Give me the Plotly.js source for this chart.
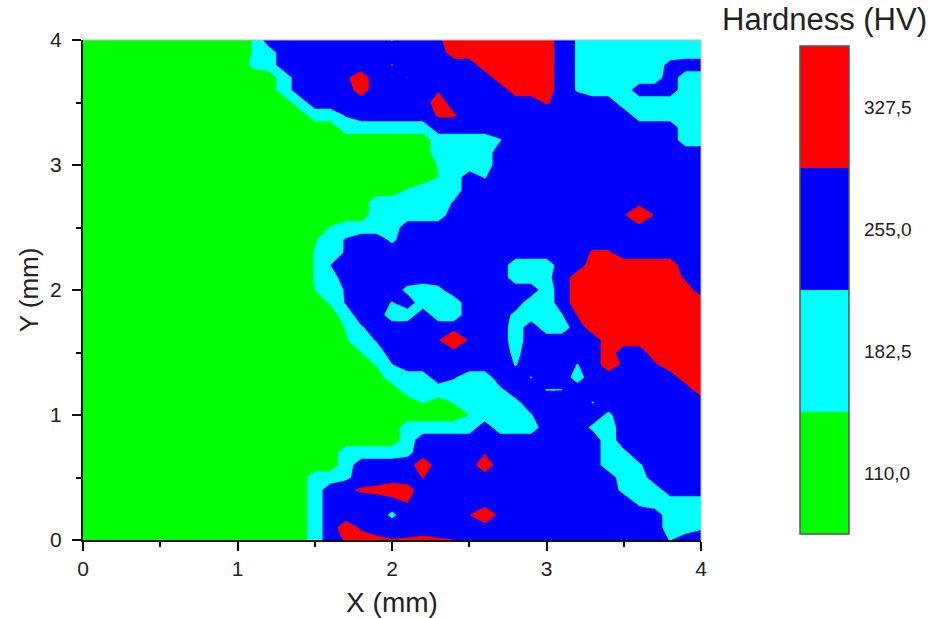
<!DOCTYPE html>
<html><head><meta charset="utf-8">
<script src="https://cdn.plot.ly/plotly-3.0.1.min.js"></script>
<style>html,body{margin:0;padding:0;background:#fff}#c{width:929px;height:618px}</style>
</head><body><div id="c"></div>
<script>
const G=110,C=182,B=255,R=327;
const xs=[0,.1,.2,.3,.4,.5,.6,.7,.8,.9,1,1.1,1.2,1.3,1.4,1.5,1.6,1.7,1.8,1.9,2,2.1,2.2,2.3,2.4,2.5,2.6,2.7,2.8,2.9,3,3.1,3.2,3.3,3.4,3.5,3.6,3.7,3.8,3.9,4];
const ys=xs.slice();
const tickVals=[110,182.5,255,327.5];
const tickText=['110,0','182,5','255,0','327,5'];
const z=[
/*0.0*/[G,G,G,G,G,G,G,G,G,G,G,G,G,G,G,C,B,300,R,310,295,300,310,300,292,B,B,B,B,B,B,B,B,B,B,B,B,B,215,B,B],
/*0.1*/[G,G,G,G,G,G,G,G,G,G,G,G,G,G,G,C,B,335,280,B,B,B,B,B,B,B,B,B,B,B,B,B,B,B,B,B,B,B,C,C,210],
/*0.2*/[G,G,G,G,G,G,G,G,G,G,G,G,G,G,G,C,B,B,B,B,205,B,B,B,B,290,360,270,B,B,B,B,B,B,B,B,B,B,C,C,C],
/*0.3*/[G,G,G,G,G,G,G,G,G,G,G,G,G,G,G,C,B,B,B,B,B,293,B,B,B,B,B,B,B,B,B,B,B,B,B,B,205,C,C,C,C],
/*0.4*/[G,G,G,G,G,G,G,G,G,G,G,G,G,G,G,C,B,280,300,310,340,320,B,B,B,B,B,B,B,B,B,B,B,B,B,200,C,C,B,B,B],
/*0.5*/[G,G,G,G,G,G,G,G,G,G,G,G,G,G,G,C,C,200,B,B,B,B,295,B,B,B,B,B,B,B,B,B,B,B,B,C,C,B,B,B,B],
/*0.6*/[G,G,G,G,G,G,G,G,G,G,G,G,G,G,G,G,G,C,B,B,B,B,340,B,B,B,340,B,B,B,B,B,B,B,C,C,210,B,B,B,B],
/*0.7*/[G,G,G,G,G,G,G,G,G,G,G,G,G,G,G,G,G,C,C,C,C,200,B,B,B,B,285,B,B,B,B,B,B,B,C,205,B,B,B,B,B],
/*0.8*/[G,G,G,G,G,G,G,G,G,G,G,G,G,G,G,G,G,G,G,G,G,C,B,B,B,B,B,B,B,B,B,B,B,B,C,B,B,B,B,B,B],
/*0.9*/[G,G,G,G,G,G,G,G,G,G,G,G,G,G,G,G,G,G,G,G,G,C,C,C,C,C,B,C,C,C,B,B,B,205,C,B,B,B,B,B,B],
/*1.0*/[G,G,G,G,G,G,G,G,G,G,G,G,G,G,G,G,G,G,G,G,G,G,G,G,G,146,C,C,C,215,B,B,B,B,205,B,B,B,B,B,B],
/*1.1*/[G,G,G,G,G,G,G,G,G,G,G,G,G,G,G,G,G,G,G,G,G,G,150,120,150,C,C,C,200,B,B,B,B,215,B,B,B,B,B,B,B],
/*1.2*/[G,G,G,G,G,G,G,G,G,G,G,G,G,G,G,G,G,G,G,G,G,C,C,C,C,C,C,205,B,B,216,217,B,B,B,B,B,B,B,B,R],
/*1.3*/[G,G,G,G,G,G,G,G,G,G,G,G,G,G,G,G,G,G,G,G,C,C,C,B,225,C,C,B,B,215,B,B,190,B,B,B,B,B,B,R,R],
/*1.4*/[G,G,G,G,G,G,G,G,G,G,G,G,G,G,G,G,G,G,G,150,215,B,B,B,B,B,B,B,215,B,B,B,215,B,R,280,B,280,R,R,R],
/*1.5*/[G,G,G,G,G,G,G,G,G,G,G,G,G,G,G,G,G,G,146,C,B,B,B,B,B,B,B,B,200,B,B,B,B,B,R,B,B,R,R,R,R],
/*1.6*/[G,G,G,G,G,G,G,G,G,G,G,G,G,G,G,G,G,140,C,225,B,B,B,287,400,280,B,B,C,B,B,B,B,B,R,R,R,R,R,R,R],
/*1.7*/[G,G,G,G,G,G,G,G,G,G,G,G,G,G,G,G,G,150,210,B,B,B,B,B,B,B,B,B,C,B,C,C,B,R,R,R,R,R,R,R,R],
/*1.8*/[G,G,G,G,G,G,G,G,G,G,G,G,G,G,G,G,G,C,B,B,C,C,B,C,C,B,B,B,200,C,C,215,295,R,R,R,R,R,R,R,R],
/*1.9*/[G,G,G,G,G,G,G,G,G,G,G,G,G,G,G,G,155,225,B,B,215,B,C,C,C,B,B,B,B,C,C,B,R,R,R,R,R,R,R,R,R],
/*2.0*/[G,G,G,G,G,G,G,G,G,G,G,G,G,G,G,146,C,225,B,B,B,200,C,200,B,B,B,B,B,B,C,B,R,R,R,R,R,R,R,R,B],
/*2.1*/[G,G,G,G,G,G,G,G,G,G,G,G,G,G,G,150,C,B,B,B,B,B,B,B,B,B,B,B,C,C,200,B,R,R,R,R,R,R,R,280,B],
/*2.2*/[G,G,G,G,G,G,G,G,G,G,G,G,G,G,G,150,218,B,B,B,B,B,B,B,B,B,B,B,C,C,C,B,B,R,R,R,R,R,R,B,B],
/*2.3*/[G,G,G,G,G,G,G,G,G,G,G,G,G,G,G,150,C,225,B,B,B,B,B,B,B,B,B,B,B,B,B,B,B,300,300,B,B,B,B,B,B],
/*2.4*/[G,G,G,G,G,G,G,G,G,G,G,G,G,G,G,140,C,225,B,B,205,B,B,B,B,B,B,B,B,B,B,B,B,B,B,B,B,B,B,B,B],
/*2.5*/[G,G,G,G,G,G,G,G,G,G,G,G,G,G,G,G,150,C,C,C,C,B,B,B,B,B,B,B,B,B,B,B,B,B,B,B,B,B,B,B,B],
/*2.6*/[G,G,G,G,G,G,G,G,G,G,G,G,G,G,G,G,G,G,G,C,C,C,C,C,B,B,B,B,B,B,B,B,B,B,B,280,400,285,B,B,B],
/*2.7*/[G,G,G,G,G,G,G,G,G,G,G,G,G,G,G,G,G,G,G,C,C,C,C,C,225,B,B,B,B,B,B,B,B,B,B,B,B,B,B,B,B],
/*2.8*/[G,G,G,G,G,G,G,G,G,G,G,G,G,G,G,G,G,G,G,G,G,150,C,C,C,B,B,B,B,B,B,B,B,B,B,B,B,B,B,B,B],
/*2.9*/[G,G,G,G,G,G,G,G,G,G,G,G,G,G,G,G,G,G,G,G,G,G,G,146,C,B,215,B,B,B,B,B,B,B,B,B,B,B,B,B,B],
/*3.0*/[G,G,G,G,G,G,G,G,G,G,G,G,G,G,G,G,G,G,G,G,G,G,G,150,205,C,C,B,B,B,B,B,B,B,B,B,B,B,B,B,B],
/*3.1*/[G,G,G,G,G,G,G,G,G,G,G,G,G,G,G,G,G,G,G,G,G,G,G,C,C,C,C,B,B,B,B,B,B,B,B,B,B,B,B,B,B],
/*3.2*/[G,G,G,G,G,G,G,G,G,G,G,G,G,G,G,G,G,G,G,G,G,G,G,C,C,C,C,215,B,B,B,B,B,B,B,B,B,B,B,C,C],
/*3.3*/[G,G,G,G,G,G,G,G,G,G,G,G,G,G,G,G,G,C,C,C,C,C,C,B,B,B,B,B,B,B,B,B,B,B,B,B,B,B,B,C,C],
/*3.4*/[G,G,G,G,G,G,G,G,G,G,G,G,G,G,G,C,C,225,B,B,B,B,B,300,300,B,B,B,B,B,B,B,B,B,B,B,C,C,C,C,C],
/*3.5*/[G,G,G,G,G,G,G,G,G,G,G,G,G,G,C,B,B,B,B,B,B,B,B,330,B,B,B,B,B,B,300,B,B,B,B,C,C,C,C,C,C],
/*3.6*/[G,G,G,G,G,G,G,G,G,G,G,G,G,C,B,B,B,B,R,B,B,B,B,285,B,B,B,B,R,R,R,B,212,C,C,C,B,B,B,C,C],
/*3.7*/[G,G,G,G,G,G,G,G,G,G,G,G,G,C,B,B,B,280,R,B,B,293,B,B,B,B,B,R,R,R,R,B,212,C,C,C,C,C,B,C,C],
/*3.8*/[G,G,G,G,G,G,G,G,G,G,G,160,C,B,B,B,B,B,B,B,295,B,B,B,B,B,R,R,R,R,R,B,212,C,C,C,C,C,240,B,B],
/*3.9*/[G,G,G,G,G,G,G,G,G,G,G,150,C,B,B,B,B,B,B,B,B,B,B,B,R,R,R,R,R,R,R,B,212,C,C,C,C,C,C,C,C],
/*4.0*/[G,G,G,G,G,G,G,G,G,G,G,150,B,B,B,B,B,B,B,B,215,B,B,280,R,R,R,R,R,R,R,B,212,C,C,C,C,C,C,C,C]
];
const font='"Liberation Sans",Arial,sans-serif', ink='#222';
const trace={type:'contour',x:xs,y:ys,z:z,zauto:false,zmin:73.75,zmax:363.75,
 autocontour:false,line:{width:0,smoothing:0},hoverinfo:'skip',
 contours:{coloring:'fill',start:146.25,end:291.25,size:72.5,showlines:false},
 colorscale:[[0,'#00ff00'],[.25,'#00ff00'],[.25,'#00ffff'],[.5,'#00ffff'],[.5,'#0000ff'],[.75,'#0000ff'],[.75,'#ff0000'],[1,'#ff0000']],
 colorbar:{thicknessmode:'pixels',thickness:49,lenmode:'pixels',len:488,x:1.1602,xanchor:'left',y:.988,yanchor:'top',xpad:0,ypad:0,
  outlinecolor:'#555',outlinewidth:1.5,borderwidth:0,ticks:'outside',ticklen:11,tickcolor:'rgba(0,0,0,0)',tickmode:'array',tickvals:tickVals,ticktext:tickText,
  tickfont:{family:font,size:19,color:ink},title:{text:''}}};
const axis={range:[0,4],tickmode:'linear',tick0:0,dtick:1,ticks:'outside',ticklen:9,tickwidth:2,tickcolor:'#111',showline:true,linecolor:'#111',linewidth:2,showgrid:false,zeroline:false,
 tickfont:{family:font,size:21,color:ink},minor:{dtick:.5,ticks:'outside',ticklen:5,tickwidth:2,tickcolor:'#111',showgrid:false}};
const layout={width:929,height:618,margin:{l:83,r:228,t:40,b:78},paper_bgcolor:'#fff',plot_bgcolor:'#fff',showlegend:false,
 xaxis:Object.assign({},axis,{title:{text:'X (mm)',font:{family:font,size:28,color:ink},standoff:22}}),
 yaxis:Object.assign({},axis,{ticklabelstandoff:6,title:{text:'Y (mm)',font:{family:font,size:26,color:ink},standoff:4}}),
 annotations:[{xref:'paper',yref:'paper',x:1.2,y:1.04,xanchor:'center',yanchor:'middle',showarrow:false,text:'Hardness (HV)',font:{family:font,size:31,color:ink}}],
 shapes:[{type:'line',xref:'paper',yref:'paper',x0:0,x1:1,y0:1,y1:1,line:{color:'#bbb',width:1}},{type:'line',xref:'paper',yref:'paper',x0:1,x1:1,y0:0,y1:1,line:{color:'#bbb',width:1}}]};
Plotly.newPlot('c',[trace],layout,{displayModeBar:false,responsive:false});
</script></body></html>
